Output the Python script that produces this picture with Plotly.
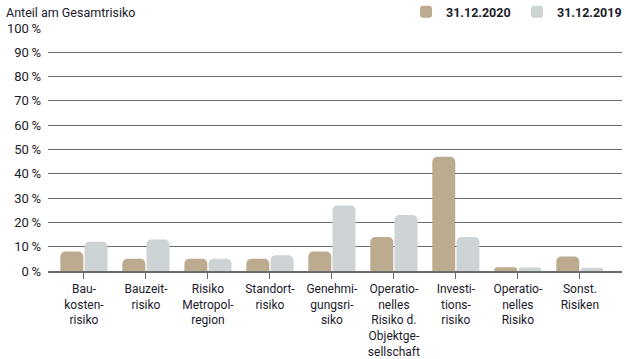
import plotly.graph_objects as go

categories = [
    "Bau-<br>kosten-<br>risiko",
    "Bauzeit-<br>risiko",
    "Risiko<br>Metropol-<br>region",
    "Standort-<br>risiko",
    "Genehmi-<br>gungsri-<br>siko",
    "Operatio-<br>nelles<br>Risiko d.<br>Objektge-<br>sellschaft",
    "Investi-<br>tions-<br>risiko",
    "Operatio-<br>nelles<br>Risiko",
    "Sonst.<br>Risiken",
]
values_2020 = [8, 5, 5, 5, 8, 14, 47, 1.5, 6]
values_2019 = [12, 13, 5, 6.5, 27, 23, 14, 1.4, 1.3]
y_ticks = [0, 10, 20, 30, 40, 50, 60, 70, 80, 90, 100]
y_ticktext = [f"{v}\u2009%" for v in y_ticks]

xpos = list(range(len(categories)))
font = "Roboto, Liberation Sans, sans-serif"
text_color = "#1b1b2b"

fig = go.Figure()
fig.add_trace(go.Bar(x=xpos, y=values_2020, name="<b>31.12.2020</b>",
                     marker=dict(color="#bcab8f", line=dict(width=0))))
fig.add_trace(go.Bar(x=xpos, y=values_2019, name="<b>31.12.2019</b>",
                     marker=dict(color="#ced3d6", line=dict(width=0))))

fig.update_layout(
    width=626, height=359,
    margin=dict(l=48, r=4, t=28, b=88, autoexpand=False),
    paper_bgcolor="white", plot_bgcolor="white",
    barmode="group", bargap=0.22, bargroupgap=0.05,
    barcornerradius=5,
    font=dict(family=font, size=12, color=text_color),
    showlegend=True,
    legend=dict(orientation="h", x=(406 - 48) / 574, xanchor="left",
                y=1 + 16 / 243, yanchor="middle",
                font=dict(size=12.5, color=text_color, family=font),
                itemwidth=30, traceorder="normal", bgcolor="rgba(0,0,0,0)",
                entrywidthmode="pixels", entrywidth=66),
    annotations=[dict(text="Anteil am Gesamtrisiko", xref="paper", yref="paper",
                      x=-44/574, xanchor="left", y=1.0, yshift=16, yanchor="middle",
                      showarrow=False, font=dict(size=12.5, color=text_color))],
)

fig.update_xaxes(
    range=[-0.58, 8.68], tickvals=xpos, ticktext=categories,
    showgrid=False, zeroline=False,
    showline=True, linecolor="#6b6b6b", linewidth=1.5,
    ticks="outside", ticklen=6, tickcolor="#6b6b6b", tickwidth=1.2,
    tickfont=dict(size=12, color=text_color), tickangle=0,
)
fig.update_yaxes(
    range=[0, 100], tickvals=y_ticks, ticktext=y_ticktext,
    showgrid=True, gridcolor="#6b6b6b", gridwidth=1.3,
    zeroline=False, showline=False, ticks="", ticklabelstandoff=6,
    tickfont=dict(size=13, color=text_color),
)

fig.write_html("out.html", config={"displayModeBar": False},
               post_script="document.body.style.margin='0';")
